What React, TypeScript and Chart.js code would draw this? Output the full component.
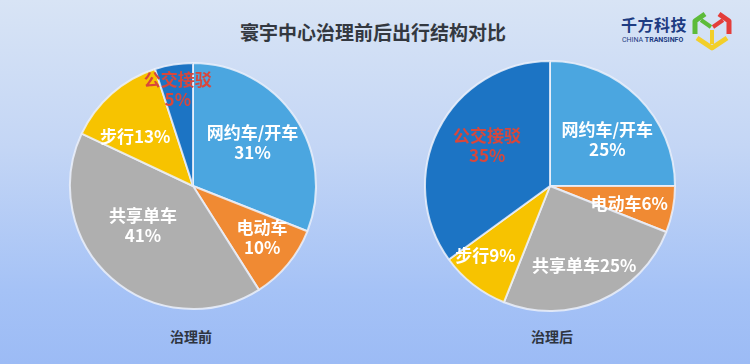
import React, { useEffect, useRef } from "react";
import { Chart, registerables } from "chart.js";

Chart.register(...registerables);

const categories = ["网约车/开车", "电动车", "共享单车", "步行", "公交接驳"];
const beforeValues = [31, 10, 41, 13, 5];
const afterValues = [25, 6, 25, 9, 35];
const sliceColors = ["#4BA6E0", "#F08A33", "#AFAFAF", "#F7C300", "#1C74C4"];
const labelColors = ["#FFFFFF", "#FFFFFF", "#FFFFFF", "#FFFFFF", "#D8473B"];
const beforeTwoLine = [true, true, true, false, true];
const afterTwoLine = [true, false, false, false, true];
const beforeLabelRadius = [0.6, 0.7, 0.52, 0.62, 0.79];
const afterLabelRadius = [0.59, 0.65, 0.69, 0.76, 0.6];
const beforeLabelShift = [-2, -3, 10, -8, 0];
const afterLabelShift = [6, 2, 0, 5, 6];
const chartTitle = "寰宇中心治理前后出行结构对比";
const beforeCaption = "治理前";
const afterCaption = "治理后";

const FONT = '"Noto Sans CJK SC", "Noto Sans", sans-serif';

function makeLabelPlugin(values: number[], twoLine: boolean[], radius: number[], shift: number[]) {
  return {
    id: "sliceLabels",
    afterDatasetsDraw(chart: any) {
      const ctx = chart.ctx;
      const meta = chart.getDatasetMeta(0);
      ctx.save();
      ctx.font = `bold 17px ${FONT}`;
      ctx.textAlign = "center";
      ctx.textBaseline = "middle";
      meta.data.forEach((arc: any, i: number) => {
        const p = arc.getProps(["x", "y", "startAngle", "endAngle", "outerRadius"], true);
        const mid = (p.startAngle + p.endAngle) / 2 + (shift[i] * Math.PI) / 180;
        const r = p.outerRadius * radius[i];
        const cx = p.x + Math.cos(mid) * r;
        const cy = p.y + Math.sin(mid) * r;
        ctx.fillStyle = labelColors[i];
        if (twoLine[i]) {
          ctx.fillText(categories[i], cx, cy - 10);
          ctx.fillText(`${values[i]}%`, cx, cy + 10);
        } else {
          ctx.fillText(`${categories[i]}${values[i]}%`, cx, cy);
        }
      });
      ctx.restore();
    },
  };
}

function PieCanvas(props: {
  values: number[];
  twoLine: boolean[];
  radius: number[];
  shift: number[];
  style: React.CSSProperties;
  size: number;
}) {
  const ref = useRef<HTMLCanvasElement | null>(null);
  useEffect(() => {
    if (!ref.current) return;
    const chart = new Chart(ref.current, {
      type: "pie",
      data: {
        labels: categories,
        datasets: [
          {
            data: props.values,
            backgroundColor: sliceColors,
            borderColor: "rgba(235,240,250,0.85)",
            borderWidth: 2,
          },
        ],
      },
      options: {
        responsive: false,
        animation: false,
        layout: { padding: 4 },
        plugins: {
          legend: { display: false },
          tooltip: { enabled: false },
          title: { display: false },
        },
      },
      plugins: [makeLabelPlugin(props.values, props.twoLine, props.radius, props.shift)],
    });
    return () => chart.destroy();
  }, []);
  return (
    <canvas
      ref={ref}
      width={props.size}
      height={props.size}
      style={{ position: "absolute", width: props.size, height: props.size, ...props.style }}
    />
  );
}

function Logo() {
  return (
    <div style={{ position: "absolute", left: 621, top: 10, width: 120, height: 44 }}>
      <div
        style={{
          position: "absolute",
          left: 0,
          top: 5,
          font: `bold 16px ${FONT}`,
          color: "#1E3C82",
          letterSpacing: 0.5,
          lineHeight: "18px",
          whiteSpace: "nowrap",
        }}
      >
        千方科技
      </div>
      <div
        style={{
          position: "absolute",
          left: 1,
          top: 26,
          fontFamily: "Roboto, sans-serif",
          fontSize: 7,
          lineHeight: "8px",
          color: "#1E3C82",
          whiteSpace: "nowrap",
        }}
      >
        <span style={{ fontWeight: 400 }}>CHINA </span>
        <span style={{ fontWeight: 700 }}>TRANSINFO</span>
      </div>
      <svg style={{ position: "absolute", left: 70, top: 0 }} width={44} height={42} viewBox="0 0 44 42">
        <polyline points="14,4 4,11 4,24" fill="none" stroke="#5DBB3A" strokeWidth={5} strokeLinejoin="round" />
        <polyline points="10,10 20,17" fill="none" stroke="#5DBB3A" strokeWidth={4} />
        <polyline points="28,4 38,11 38,24" fill="none" stroke="#E43D3A" strokeWidth={5} strokeLinejoin="round" />
        <polyline points="32,10 22,17" fill="none" stroke="#E43D3A" strokeWidth={4} />
        <polyline points="6,28 21,38 36,28" fill="none" stroke="#F2CF2A" strokeWidth={5} strokeLinejoin="round" />
        <polyline points="21,20 21,34" fill="none" stroke="#F2CF2A" strokeWidth={4} />
      </svg>
    </div>
  );
}

export default function App() {
  return (
    <div
      style={{
        position: "fixed",
        left: 0,
        top: 0,
        width: 750,
        height: 364,
        overflow: "hidden",
        background: "linear-gradient(180deg, #D8E4F5 0%, #C4D6F5 40%, #A5C2F6 80%, #9CBBF5 100%)",
        fontFamily: FONT,
      }}
    >
      <div
        style={{
          position: "absolute",
          left: 0,
          top: 20,
          width: 746,
          textAlign: "center",
          font: `bold 19px ${FONT}`,
          lineHeight: "24px",
          color: "#333840",
        }}
      >
        {chartTitle}
      </div>
      <Logo />
      <PieCanvas
        values={beforeValues}
        twoLine={beforeTwoLine}
        radius={beforeLabelRadius}
        shift={beforeLabelShift}
        size={256}
        style={{ left: 65, top: 58 }}
      />
      <PieCanvas
        values={afterValues}
        twoLine={afterTwoLine}
        radius={afterLabelRadius}
        shift={afterLabelShift}
        size={260}
        style={{ left: 420, top: 56 }}
      />
      <div
        style={{
          position: "absolute",
          left: 141,
          top: 326,
          width: 100,
          textAlign: "center",
          font: `bold 14px ${FONT}`,
          lineHeight: "20px",
          color: "#2E3440",
        }}
      >
        {beforeCaption}
      </div>
      <div
        style={{
          position: "absolute",
          left: 502,
          top: 326,
          width: 100,
          textAlign: "center",
          font: `bold 14px ${FONT}`,
          lineHeight: "20px",
          color: "#2E3440",
        }}
      >
        {afterCaption}
      </div>
    </div>
  );
}
